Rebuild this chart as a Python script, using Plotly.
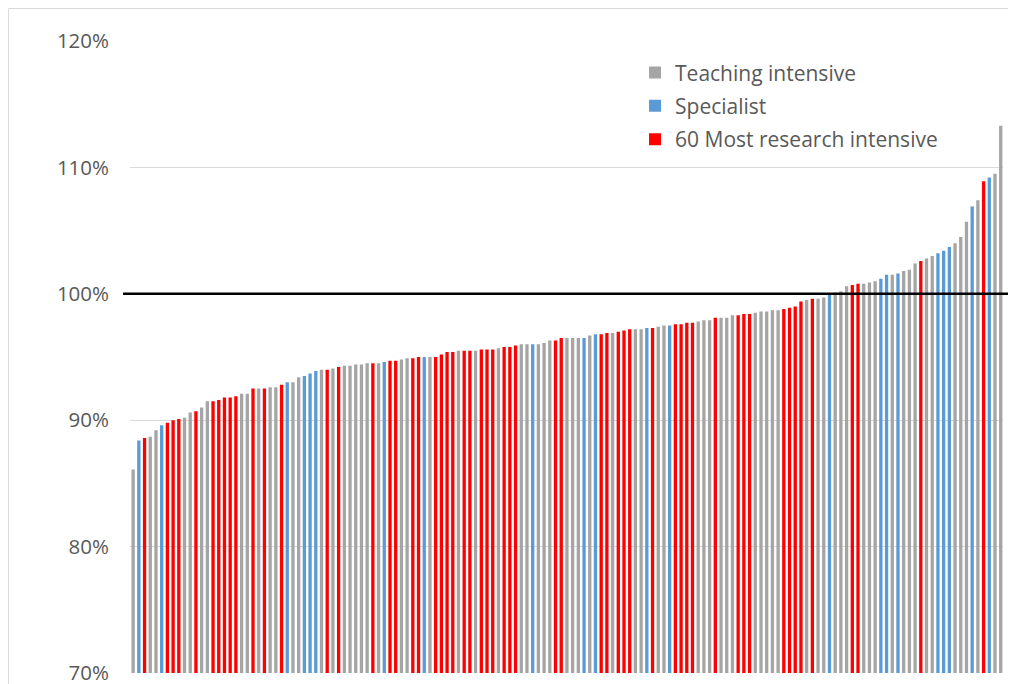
import plotly.graph_objects as go

# ======== DATOS =========
values = [
    86.1, 88.4, 88.6, 88.7, 89.2, 89.6, 89.8, 90.0, 90.1, 90.2,
    90.6, 90.7, 91.0, 91.5, 91.5, 91.6, 91.8, 91.8, 91.9, 92.1,
    92.1, 92.5, 92.5, 92.5, 92.6, 92.6, 92.8, 93.0, 93.0, 93.4,
    93.5, 93.7, 93.9, 94.0, 94.0, 94.1, 94.2, 94.3, 94.3, 94.4,
    94.4, 94.5, 94.5, 94.5, 94.6, 94.7, 94.7, 94.8, 94.9, 94.9,
    95.0, 95.0, 95.0, 95.0, 95.2, 95.4, 95.4, 95.5, 95.5, 95.5,
    95.5, 95.6, 95.6, 95.6, 95.7, 95.8, 95.8, 95.9, 96.0, 96.0,
    96.0, 96.0, 96.1, 96.3, 96.3, 96.5, 96.5, 96.5, 96.5, 96.5,
    96.7, 96.8, 96.8, 96.9, 96.9, 97.0, 97.1, 97.2, 97.2, 97.2,
    97.3, 97.3, 97.4, 97.5, 97.5, 97.6, 97.6, 97.7, 97.7, 97.8,
    97.9, 97.9, 98.1, 98.1, 98.1, 98.3, 98.3, 98.4, 98.4, 98.5,
    98.6, 98.6, 98.7, 98.7, 98.8, 98.9, 99.0, 99.4, 99.5, 99.6,
    99.6, 99.7, 100.0, 100.1, 100.2, 100.6, 100.7, 100.8, 100.8, 100.9,
    101.0, 101.2, 101.5, 101.5, 101.6, 101.8, 101.9, 102.4, 102.6, 102.8,
    103.0, 103.2, 103.4, 103.7, 104.0, 104.5, 105.7, 106.9, 107.4, 108.9,
    109.2, 109.5, 113.3,
]

# T = teaching intensive, S = specialist, R = research intensive
groups = list(
    "TSRTTSRRRTTRTTRRRRR"
    "TTRTRTTRSTTSSSTRTRT"
    "TTTTRTSRRTTRRSTRRR"
    "RTRRTRRRTRRRTTSTTTR"
    "RTTTSTSRRTRRRTTSRT"
    "TSRRRRTTTRTTTRRRTTT"
    "TTRRRRTRTTSTTTRRTT"
    "TSSTSTTTRTTSSSTTTSTRSTT"
)

series = [
    ("T", "Teaching intensive", "#a5a5a5"),
    ("S", "Specialist", "#5b9bd5"),
    ("R", "60 Most research intensive", "#ff0000"),
]

y_ticks = [70, 80, 90, 100, 110, 120]

# ======== FIGURA =========
x_pos = list(range(1, len(values) + 1))

fig = go.Figure()
for code, name, color in series:
    xs = [x for x, g in zip(x_pos, groups) if g == code]
    ys = [v for v, g in zip(values, groups) if g == code]
    fig.add_trace(go.Bar(
        x=xs, y=ys, name=name, legendgroup=code,
        marker=dict(color=color, line=dict(width=0)),
    ))

# línea de referencia en 100%
fig.add_shape(type="line", xref="paper", yref="y",
              x0=-0.008, x1=1.02, y0=100, y1=100,
              line=dict(color="black", width=2.5))

# borde del área del gráfico
fig.add_shape(type="rect", xref="paper", yref="paper",
              x0=-0.1392, x1=1.2, y0=-0.2, y1=1.0514,
              line=dict(color="#d9d9d9", width=1), layer="below")

fig.update_layout(
    width=1000, height=676,
    barmode="overlay", bargap=0.42,
    plot_bgcolor="white", paper_bgcolor="white",
    margin=dict(l=122, r=5, t=33, b=11, autoexpand=False),
    font=dict(family="Open Sans", size=20.5, color="#595959"),
    showlegend=True,
    legend=dict(x=0.5785, y=0.982, xanchor="left", yanchor="top",
                bgcolor="rgba(0,0,0,0)", tracegroupgap=3,
                font=dict(size=21, color="#595959")),
    xaxis=dict(range=[0.45, len(values) + 0.4], showticklabels=False,
               showgrid=False, zeroline=False, showline=False,
               automargin=False),
    yaxis=dict(range=[70, 120], tickvals=y_ticks,
               ticktext=[f"{t}%" for t in y_ticks],
               showgrid=True, gridcolor="#d9d9d9", gridwidth=1,
               zeroline=False, showline=False, ticklabelstandoff=20,
               ticklabeloverflow="allow", automargin=False),
)

fig.write_html("out.html")
